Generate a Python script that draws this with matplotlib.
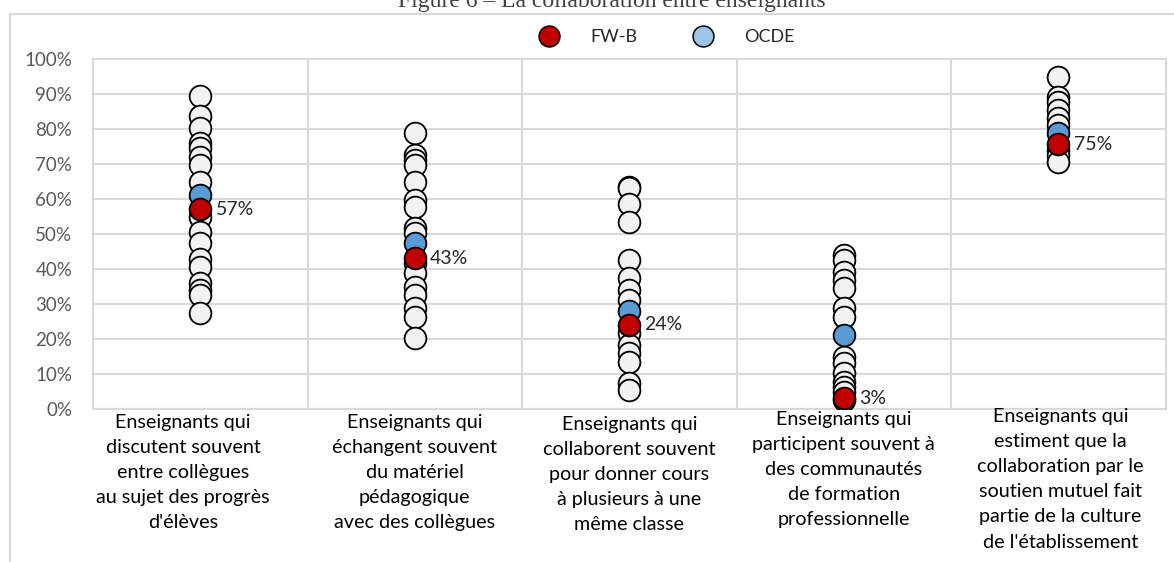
import numpy as np
import matplotlib
matplotlib.use('Agg')
import matplotlib.pyplot as plt
from matplotlib.lines import Line2D
from matplotlib.patches import Rectangle

plt.rcParams['font.family'] = ['Lato', 'DejaVu Sans']

# -- Data (% of teachers) --
categories = [
    "Enseignants qui\ndiscutent souvent\nentre collègues\nau sujet des progrès\nd'élèves",
    "Enseignants qui\néchangent souvent\ndu matériel\npédagogique\navec des collègues",
    "Enseignants qui\ncollaborent souvent\npour donner cours\nà plusieurs à une\nmême classe",
    "Enseignants qui\nparticipent souvent à\ndes communautés\nde formation\nprofessionnelle",
    "Enseignants qui\nestiment que la\ncollaboration par le\nsoutien mutuel fait\npartie de la culture\nde l'établissement",
]

# other OECD countries (white circles)
others_1 = [89.4, 83.6, 80.1, 75.8, 74.5, 72.0, 69.6, 64.9, 54.9, 50.6,
            47.3, 42.7, 40.6, 36.0, 33.9, 32.5, 27.3]
others_2 = [78.7, 72.5, 71.0, 69.6, 64.9, 59.6, 57.7, 51.5, 50.1, 41.5,
            38.7, 34.9, 32.5, 28.7, 26.3, 20.1]
others_3 = [63.4, 63.0, 58.5, 53.3, 42.5, 37.3, 33.9, 31.1, 21.5, 18.2,
            15.8, 13.4, 7.3, 5.3]
others_4 = [43.9, 42.5, 39.2, 36.8, 34.4, 28.7, 26.3, 14.9, 13.0, 10.1,
            7.7, 6.3, 4.9, 2.5]
others_5 = [94.7, 89.1, 87.7, 85.3, 83.0, 81.1, 73.9, 72.5, 70.6]
others = [others_1, others_2, others_3, others_4, others_5]

fwb = [57, 43, 24, 3, 75.5]
fwb_labels = ['57%', '43%', '24%', '3%', '75%']
ocde = [61, 47.3, 28, 21, 78.7]

W, H = 1174, 562
fig = plt.figure(figsize=(W / 100, H / 100), dpi=100)
ax = fig.add_axes([93 / W, 1 - 408.7 / H, 1072.5 / W, 350 / H])

# outer chart frame
fig.patches.append(Rectangle((10 / W, -0.2), 1.2, 1.2 - 14 / H,
                             transform=fig.transFigure, fill=False,
                             edgecolor='#d9d9d9', lw=1.5))

GRID = '#d9d9d9'
MS = 245
x = np.arange(1, len(categories) + 1)

for xi, vals in zip(x, others):
    ax.scatter([xi] * len(vals), vals, s=MS, facecolor='#f2f2f2',
               edgecolor='black', linewidth=1.3, zorder=3)
ax.scatter(x, ocde, s=MS, facecolor='#5b9bd5', edgecolor='black',
           linewidth=1.3, zorder=4)
ax.scatter(x, fwb, s=MS, facecolor='#c00000', edgecolor='black',
           linewidth=1.3, zorder=5)

for xi, v, lab in zip(x, fwb, fwb_labels):
    ax.annotate(lab, (xi, v), xytext=(11, 0), textcoords='offset points',
                ha='left', va='center', fontsize=14, color='#262626',
                zorder=6)

ax.set_xlim(0.5, 5.5)
ax.set_ylim(0, 100)
ax.set_yticks(np.arange(0, 101, 10))
ax.set_yticklabels(['%d%%' % v for v in range(0, 101, 10)])
ax.set_xticks([])
ax.tick_params(axis='y', length=0, pad=15, labelsize=13.5,
               labelcolor='#595959')
ax.yaxis.grid(True, color=GRID, lw=1.5, zorder=0)
for xs in np.arange(1.5, 5.5, 1.0):
    ax.axvline(xs, color=GRID, lw=1.5, zorder=0)
for sp in ax.spines.values():
    sp.set_color(GRID)
    sp.set_linewidth(1.5)

label_x = [0.92, 2.0, 3.0, 4.0, 5.01]
label_y = [-0.014, -0.014, -0.020, -0.006, 0.002]
for lx, ly, txt in zip(label_x, label_y, categories):
    ax.text(lx, ly, txt, transform=ax.get_xaxis_transform(), ha='center',
            va='top', fontsize=14.2, color='black', linespacing=1.58,
            multialignment='center')

handles = [
    Line2D([], [], ls='none', marker='o', markersize=15,
           markerfacecolor='#c00000', markeredgecolor='black', mew=1.1),
    Line2D([], [], ls='none', marker='o', markersize=15,
           markerfacecolor='#9dc3e6', markeredgecolor='black', mew=1.1),
]
fig.legend(handles, ['FW-B', 'OCDE'], loc='center', ncol=2,
           bbox_to_anchor=(663 / W, 1 - 37 / H), frameon=False,
           fontsize=13, handletextpad=1.3, columnspacing=2.6,
           labelcolor='#262626')

fig.text(612 / W, 1 - 7 / H, 'Figure 6 – La collaboration entre enseignants',
         ha='center', va='baseline', fontsize=17,
         family=['Liberation Serif', 'DejaVu Serif'], color='#404040')

fig.savefig('out.png', dpi=100)
